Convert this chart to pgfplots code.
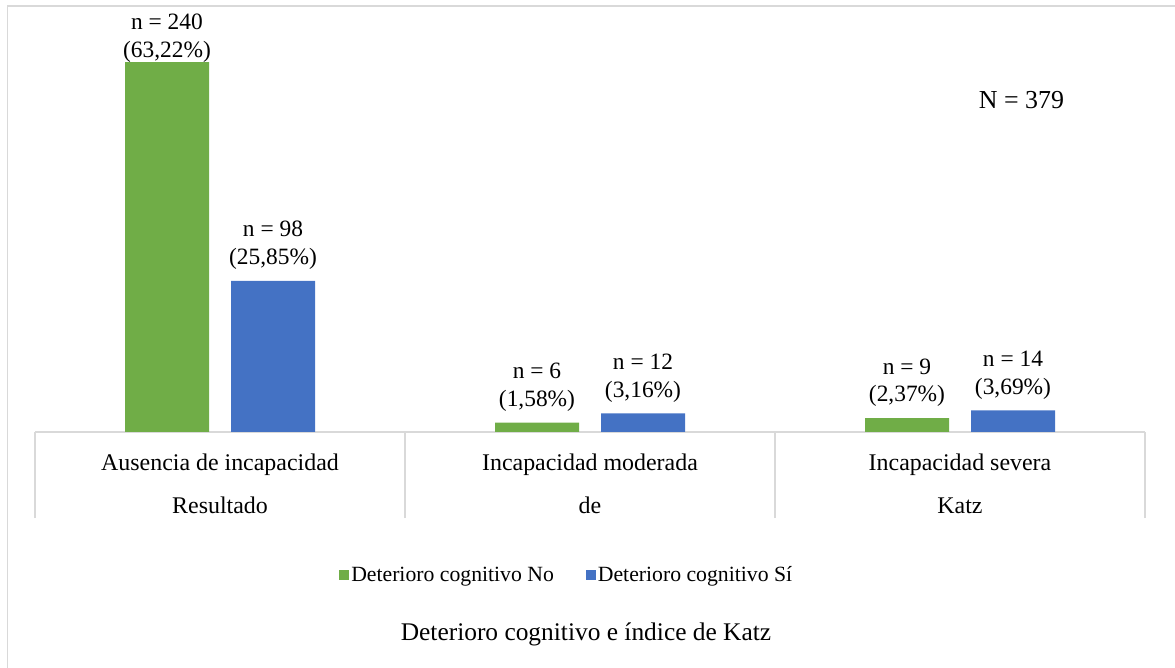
\documentclass[border=0pt]{standalone}
\usepackage{pgfplots}
\pgfplotsset{compat=1.18}
\usepackage{fontspec}
\setmainfont{Liberation Serif}

\definecolor{verde}{HTML}{70AD47}
\definecolor{azul}{HTML}{4472C4}
\definecolor{rejilla}{HTML}{D9D9D9}

\pgfplotsset{
  cuadro/.style={legend image code/.code={\fill[##1] (0bp,-5bp) rectangle (10bp,5bp);}},
}

\begin{document}
\begin{tikzpicture}[x=1bp,y=1bp]
% pixel (u,v) of the reference -> (u-35, 432-v)
\useasboundingbox (-35,-236) rectangle (1140,432);
\draw[rejilla, line width=1.5bp] (-27.5,-260) -- (-27.5,426) -- (1160,426);
\begin{axis}[
  at={(0,0)}, anchor=south west,
  scale only axis, width=1110bp, height=400.8bp,
  xmin=-0.5, xmax=2.5, ymin=0, ymax=260,
  axis y line=none, axis x line=bottom,
  x axis line style={-, draw=rejilla, line width=1.5bp},
  ybar=22bp, bar width=84bp,
  xtick={0,1,2},
  xticklabels={{Ausencia de incapacidad\\Resultado},{Incapacidad moderada\\de},{Incapacidad severa\\Katz}},
  major tick length=0pt,
  xticklabel style={font=\fontsize{24}{43}\selectfont, align=center, anchor=north, inner sep=0pt, yshift=-21.5bp},
  extra x ticks={-0.5,0.5,1.5,2.5},
  extra x tick labels={},
  extra x tick style={major tick length=86bp, tick align=outside, major tick style={draw=rejilla, line width=1.5bp}},
  nodes near coords, point meta=explicit symbolic,
  every node near coord/.append style={font=\fontsize{23.5}{28}\selectfont, align=center, inner sep=11bp},
  coordinate style/.condition={y>200}{yshift=-12bp},
  legend columns=2,
  legend style={at={(0.479,-0.357)}, anchor=center, draw=none, fill=none, inner sep=0pt,
    font=\fontsize{21.8}{25}\selectfont,
    /tikz/every even column/.append style={column sep=30bp}},
  clip=false,
]
\addplot[fill=verde, draw=none, cuadro] coordinates {
  (0,240) [{n = 240\\(63,22\%)}]
  (1,6)   [{n = 6\\(1,58\%)}]
  (2,9)   [{n = 9\\(2,37\%)}]
};
\addplot[fill=azul, draw=none, cuadro] coordinates {
  (0,98) [{n = 98\\(25,85\%)}]
  (1,12) [{n = 12\\(3,16\%)}]
  (2,14) [{n = 14\\(3,69\%)}]
};
\legend{Deterioro cognitivo No, Deterioro cognitivo Sí}
\end{axis}
\node[font=\fontsize{26}{30}\selectfont] at (986.5,332) {N = 379};
\node[font=\fontsize{25.5}{30}\selectfont] at (551,-202) {Deterioro cognitivo e índice de Katz};
\end{tikzpicture}
\end{document}
